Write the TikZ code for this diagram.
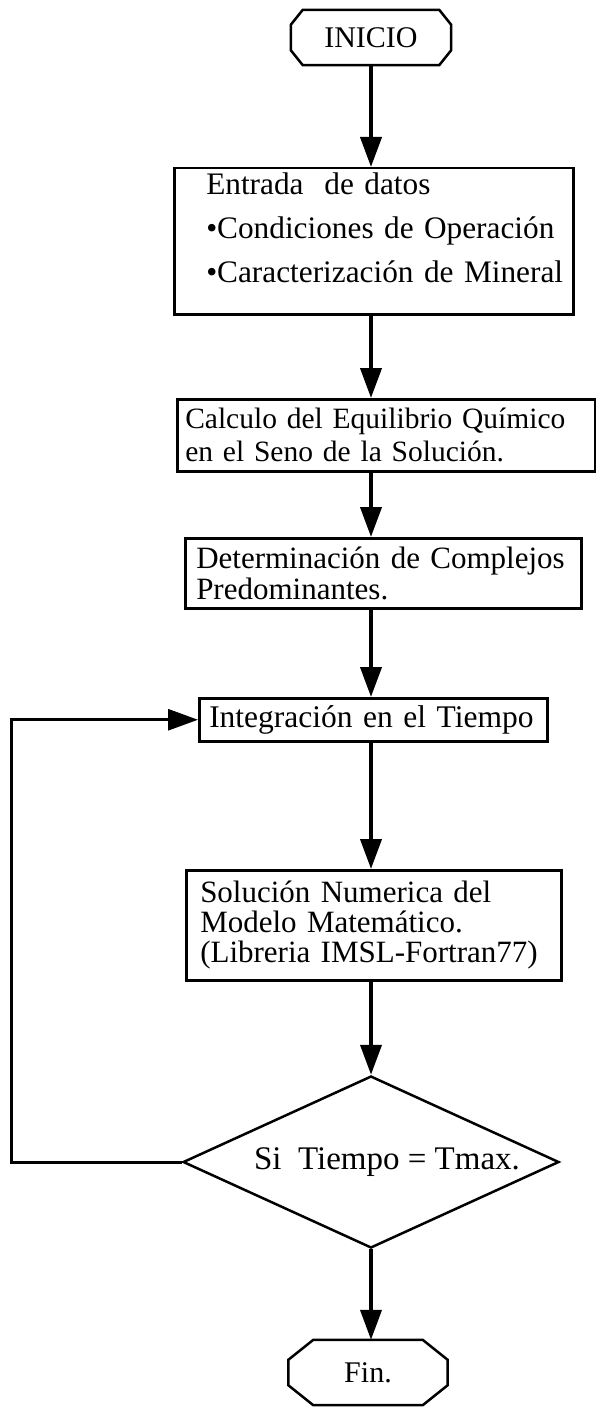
\documentclass[tikz,border=0pt]{standalone}
\usepackage{fontspec}
\setmainfont{Liberation Serif}
\usetikzlibrary{arrows.meta,positioning,shapes.geometric}

\tikzset{
  flowline/.style={line width=2.5pt},
  flow/.style={line width=4pt, -{Triangle[length=30pt,width=21pt]}},
  procbox/.style={draw, flowline, rectangle, anchor=north west, align=left,
    inner ysep=0pt, font=\fontsize{31}{33}\selectfont},
  terminal/.style={rectangle, inner sep=0pt, font=\fontsize{30}{33}\selectfont},
  decision/.style={draw, flowline, diamond, aspect=2.2, inner sep=0pt,
    font=\fontsize{33}{33}\selectfont},
}
% octagon round a terminal node: node, corner width, corner height
\newcommand{\octabox}[3]{%
  \draw[flowline] ([xshift=#2]#1.north west) -- ([xshift=-#2]#1.north east)
    -- ([yshift=-#3]#1.north east) -- ([yshift=#3]#1.south east)
    -- ([xshift=-#2]#1.south east) -- ([xshift=#2]#1.south west)
    -- ([yshift=#3]#1.south west) -- ([yshift=-#3]#1.north west) -- cycle;}

\begin{document}
\begin{tikzpicture}[x=1pt,y=-1pt]
  \useasboundingbox (0,0) rectangle (596,1407);
  % start
  \node[terminal, minimum width=160pt, minimum height=55pt] (inicio) at (371,37.5) {INICIO};
  \octabox{inicio}{12pt}{15pt}
  % process boxes
  \node[procbox, font=\fontsize{31.3}{44}\selectfont, minimum height=146pt, inner xsep=32pt,
    text width=335pt] (datos) at (173,167)
    {Entrada\ \ de datos\\\mbox{•Condiciones de Operación}\\\mbox{•Caracterización de Mineral}\\[-16pt]\mbox{}};
  \node[procbox, font=\fontsize{29.5}{33}\selectfont, minimum height=72pt, inner xsep=8pt,
    text width=402pt] (equilibrio) at (176,398)
    {Calculo del Equilibrio Químico\\en el Seno de la Solución.};
  \node[procbox, font=\fontsize{31}{31}\selectfont, minimum height=70pt, inner xsep=11pt,
    text width=374pt] (complejos) at (184,537)
    {Determinación de Complejos\\Predominantes.};
  \node[procbox, font=\fontsize{31.5}{33}\selectfont, minimum height=43pt, inner xsep=10pt,
    text width=328pt] (integra) at (198,697)
    {Integración en el Tiempo};
  \node[procbox, font=\fontsize{31}{30}\selectfont, minimum height=110pt, inner xsep=14pt,
    text width=347pt] (modelo) at (185,869)
    {Solución Numerica del\\Modelo Matemático.\\(Libreria IMSL-Fortran77)};
  % test and end
  \node[decision, minimum width=376pt, minimum height=172pt] (tmax) at (371,1162)
    {\hspace*{32pt}Si\ \ Tiempo = Tmax.};
  \node[terminal, minimum width=159pt, minimum height=65pt] (fin) at (368,1372.5) {Fin.};
  \octabox{fin}{25pt}{20pt}
  % main flow
  \draw[flow] (inicio.south) -- (inicio.south |- datos.north);
  \draw[flow] (inicio.south |- datos.south) -- (inicio.south |- equilibrio.north);
  \draw[flow] (inicio.south |- equilibrio.south) -- (inicio.south |- complejos.north);
  \draw[flow] (inicio.south |- complejos.south) -- (inicio.south |- integra.north);
  \draw[flow] (inicio.south |- integra.south) -- (inicio.south |- modelo.north);
  \draw[flow] (inicio.south |- modelo.south) -- (tmax.north);
  \draw[flow] (tmax.south) -- (tmax.south |- fin.north);
  % loop back
  \draw[flow, line width=3pt] (tmax.west) -- ++(-170,0) |- (integra.west);
\end{tikzpicture}
\end{document}
